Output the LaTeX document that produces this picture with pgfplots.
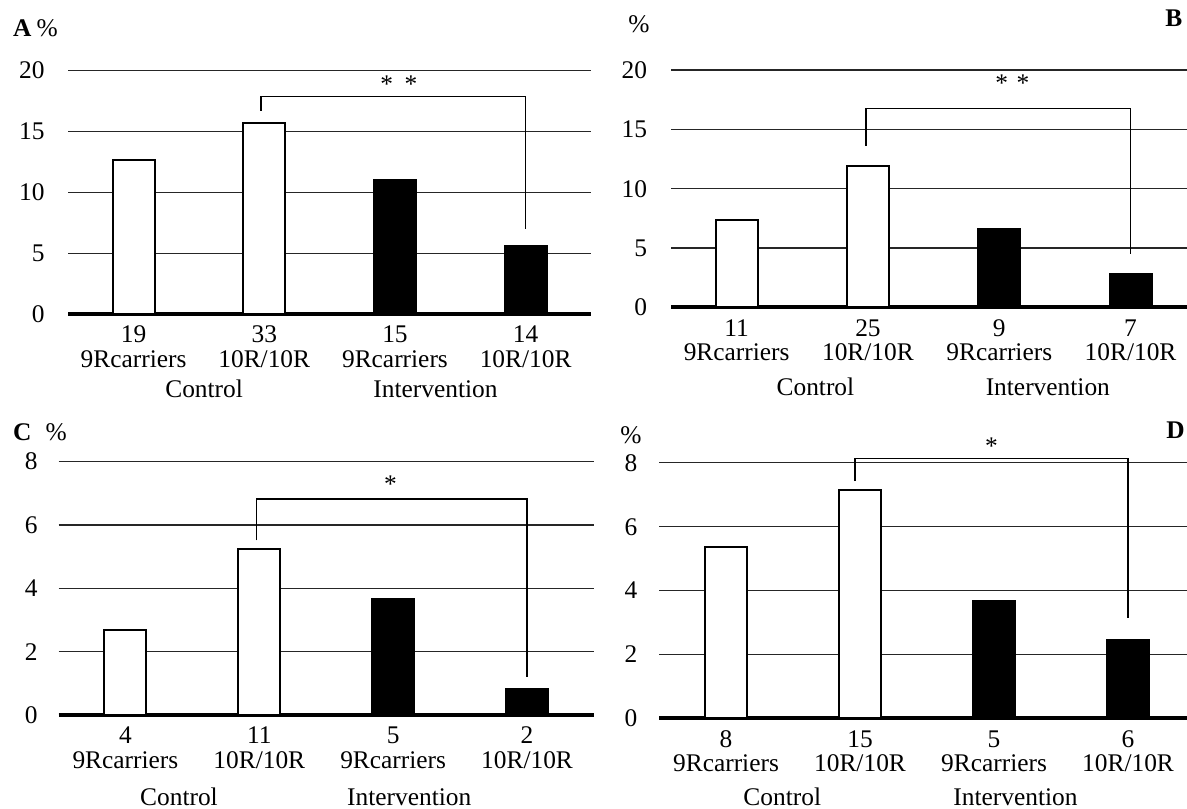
\documentclass[border=0pt]{standalone}
\usepackage{fontspec}
\setmainfont{Liberation Serif}
\usepackage{pgfplots}
\pgfplotsset{compat=1.18}
\newcommand{\tf}{\fontsize{12.7bp}{12.3bp}\selectfont}
\newcommand{\tl}[2]{\strut #1\\\strut #2}
\pgfplotsset{
  panel/.style={
    scale only axis, anchor=south west,
    xmin=-0.5, ymin=0,
    axis x line*=bottom, axis y line*=left,
    y axis line style={draw=none},
    x axis line style={line width=2bp, black, -},
    major tick length=0pt,
    xtick={0,1,2,3},
    ymajorgrids, grid style={line width=0.65bp, black!85},
    tick label style={font=\tf, inner sep=0pt},
    xticklabel style={align=center, anchor=north, yshift=-5.6bp},
    yticklabel style={anchor=east},
    /pgf/number format/assume math mode=true,
    clip=false,
  },
  wbar/.style={ybar, bar width=21bp, fill=white, draw=black, line width=1bp},
  bbar/.style={ybar, bar width=21bp, fill=black, draw=black, line width=1bp},
  brk/.style={black, line width=0.8bp, no markers, sharp plot},
}
\begin{document}
\begin{tikzpicture}
\useasboundingbox (0,0) rectangle (593.5bp,-404.5bp);
% ---------- A ----------
\begin{axis}[panel, at={(34.1bp,-157bp)}, width=261.4bp, height=121.7bp,
  xmax=3.5, ymax=20, ytick={0,5,10,15,20},
  yticklabel style={xshift=-11.6bp},
  xticklabels={{\tl{19}{9Rcarriers}},{\tl{33}{10R/10R}},{\tl{15}{9Rcarriers}},{\tl{14}{10R/10R}}}]
\addplot[wbar] coordinates {(0,12.69) (1,15.71)};
\addplot[bbar] coordinates {(2,11.04) (3,5.60)};
\addplot[brk] coordinates {(0.977,16.7) (0.977,17.86) (3,17.86) (3,7.0)};
\node[font=\tf, yshift=-2bp] at (axis cs:2.03,19.2) {*\hspace{0.45em}*};
\node[font=\tf, anchor=base, yshift=-41.5bp] at (axis cs:0.54,0) {Control};
\node[font=\tf, anchor=base, yshift=-41.5bp] at (axis cs:2.31,0) {Intervention};
\end{axis}
% ---------- B ----------
\begin{axis}[panel, at={(335.5bp,-153.7bp)}, width=258bp, height=118.7bp,
  xmax=3.43, ymax=20, ytick={0,5,10,15,20},
  yticklabel style={xshift=-11.8bp},
  xticklabels={{\tl{11}{9Rcarriers}},{\tl{25}{10R/10R}},{\tl{9}{9Rcarriers}},{\tl{7}{10R/10R}}}]
\addplot[wbar] coordinates {(0,7.36) (1,11.94)};
\addplot[bbar] coordinates {(2,6.57) (3,2.78)};
\addplot[brk] coordinates {(0.985,13.62) (0.985,16.77) (3,16.77) (3,4.49)};
\node[font=\tf, yshift=-2bp] at (axis cs:2.10,19.2) {*\hspace{0.33em}*};
\node[font=\tf, anchor=base, yshift=-44bp] at (axis cs:0.60,0) {Control};
\node[font=\tf, anchor=base, yshift=-44bp] at (axis cs:2.37,0) {Intervention};
\end{axis}
% ---------- C ----------
\begin{axis}[panel, at={(29.25bp,-357.5bp)}, width=267.75bp, height=126.7bp,
  xmax=3.5, ymax=8, ytick={0,2,4,6,8},
  yticklabel style={xshift=-10.3bp},
  xticklabels={{\tl{4}{9Rcarriers}},{\tl{11}{10R/10R}},{\tl{5}{9Rcarriers}},{\tl{2}{10R/10R}}}]
\addplot[wbar] coordinates {(0,2.68) (1,5.23)};
\addplot[bbar] coordinates {(2,3.67) (3,0.82)};
\addplot[brk] coordinates {(0.98,5.51) (0.98,6.82) (3,6.82) (3,1.21)};
\node[font=\tf, yshift=-2bp] at (axis cs:1.98,7.42) {*};
\node[font=\tf, anchor=base, yshift=-45bp] at (axis cs:0.40,0) {Control};
\node[font=\tf, anchor=base, yshift=-45bp] at (axis cs:2.12,0) {Intervention};
\end{axis}
% ---------- D ----------
\begin{axis}[panel, at={(329.5bp,-359.2bp)}, width=264bp, height=127.8bp,
  xmax=3.44, ymax=8, ytick={0,2,4,6,8},
  yticklabel style={xshift=-10.6bp},
  xticklabels={{\tl{8}{9Rcarriers}},{\tl{15}{10R/10R}},{\tl{5}{9Rcarriers}},{\tl{6}{10R/10R}}}]
\addplot[wbar] coordinates {(0,5.37) (1,7.14)};
\addplot[bbar] coordinates {(2,3.68) (3,2.45)};
\addplot[brk] coordinates {(0.963,7.43) (0.963,8.13) (3,8.13) (3,3.13)};
\node[font=\tf, yshift=-2bp] at (axis cs:1.98,8.65) {*};
\node[font=\tf, anchor=base, yshift=-43.4bp] at (axis cs:0.42,0) {Control};
\node[font=\tf, anchor=base, yshift=-43.4bp] at (axis cs:2.16,0) {Intervention};
\end{axis}
% ---------- panel labels ----------
\node[font=\tf, anchor=base west, inner sep=0pt] at (6.4bp,-18.3bp) {\textbf{A}\hspace{2.6bp}\%};
\node[font=\tf, anchor=base west, inner sep=0pt] at (314bp,-16bp) {\%};
\node[font=\tf, anchor=base west, inner sep=0pt] at (582.5bp,-13.3bp) {\textbf{B}};
\node[font=\tf, anchor=base west, inner sep=0pt] at (6.4bp,-220bp) {\textbf{C}\hspace{7bp}\%};
\node[font=\tf, anchor=base west, inner sep=0pt] at (310bp,-221.5bp) {\%};
\node[font=\tf, anchor=base west, inner sep=0pt] at (583bp,-219bp) {\textbf{D}};
\end{tikzpicture}
\end{document}
